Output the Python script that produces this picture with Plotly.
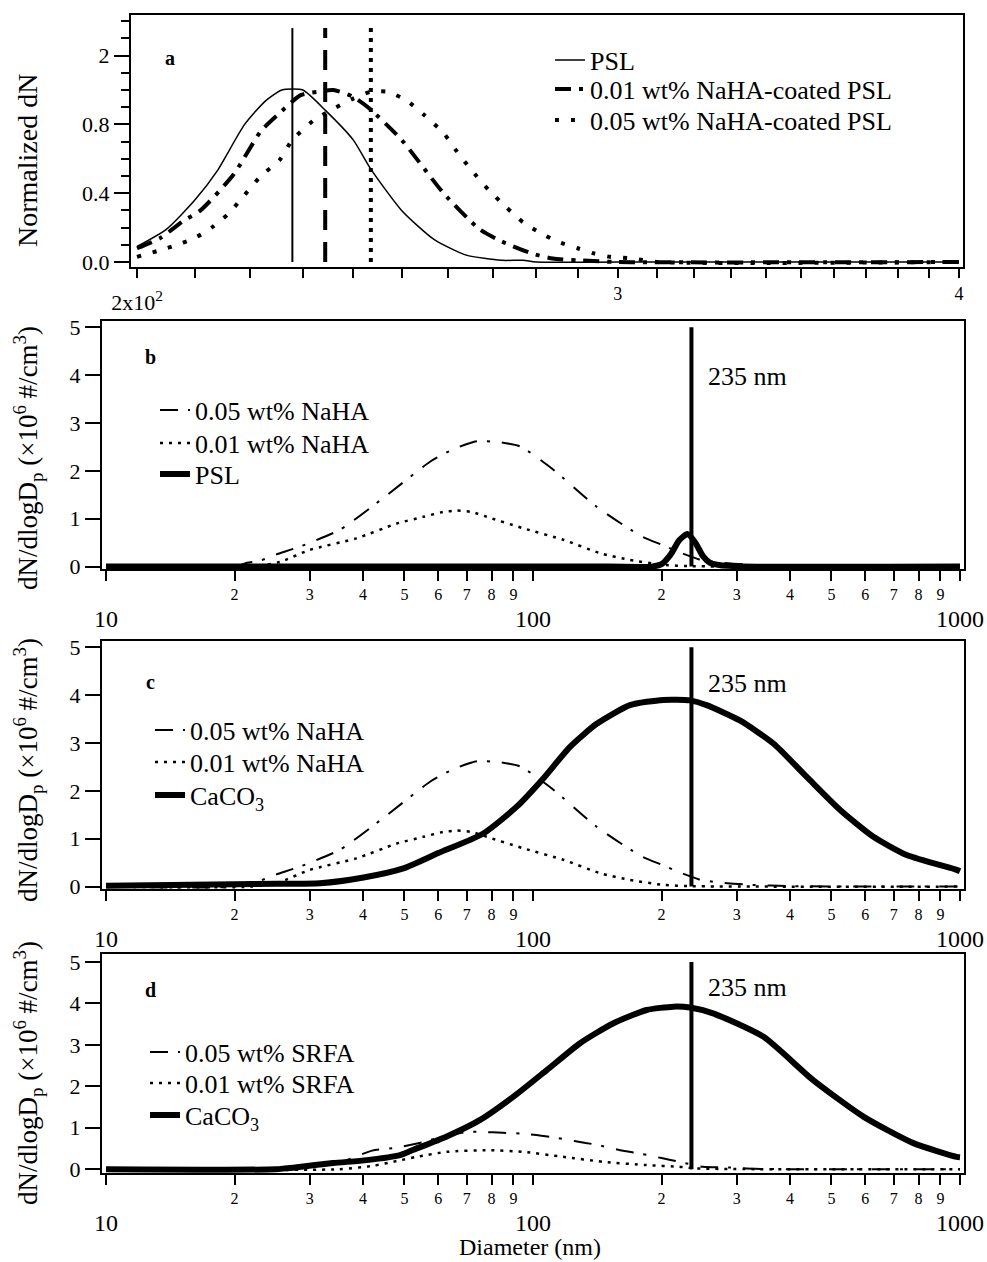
import math
import plotly.graph_objects as go

W, H = 987, 1262
FONT = "Liberation Serif"

# ---------------- Panel a (normalized, 200-400 nm) ----------------
A_PSL_D = [200, 205, 210, 214, 219, 223, 226, 230, 234.5, 240, 243.6, 250, 257, 264, 272, 277, 280, 300, 350, 400]
A_PSL_N = [0.09, 0.19, 0.36, 0.53, 0.80, 0.94, 1.0, 1.0, 0.88, 0.71, 0.54, 0.30, 0.13, 0.04, 0.01, 0.01, 0.0, 0.0, 0.0, 0.0]

A_N001_D = [200, 204, 208, 211, 217, 222, 225, 229.6, 233, 236, 240, 243, 250, 259, 267, 272, 279, 284, 290, 300, 400]
A_N001_N = [0.08, 0.14, 0.24, 0.30, 0.51, 0.76, 0.85, 0.97, 0.99, 1.0, 0.96, 0.90, 0.71, 0.40, 0.19, 0.12, 0.05, 0.02, 0.01, 0.0, 0.0]

A_N005_D = [200, 206, 210, 213, 216, 219, 222, 225.5, 228, 232, 236, 240, 243.6, 247, 251, 255, 259, 262, 265, 269, 273, 277, 281, 285, 290, 294, 298, 304, 310, 400]
A_N005_N = [0.03, 0.09, 0.14, 0.20, 0.28, 0.39, 0.50, 0.59, 0.71, 0.82, 0.89, 0.95, 0.99, 0.99, 0.94, 0.85, 0.75, 0.64, 0.54, 0.42, 0.32, 0.23, 0.17, 0.12, 0.08, 0.05, 0.03, 0.02, 0.0, 0.0]

A_MODE_D = [228, 234.4, 243.6]      # vertical mode markers
A_MODE_TOP = 1.36

A_XTICKS = list(range(200, 401, 10))
A_YTICKS = [0, 0.4, 0.8, 1.2]
A_YTEXT = ["0.0", "0.4", "0.8", "2"]

# ---------------- Panels b, c (NaHA) ----------------
NAHA005_D = [10, 20, 21.4, 22.9, 25, 28.5, 35.3, 45, 57.4, 65, 73.8, 83, 93.3, 110.7, 141, 179.7, 201, 220, 245, 270, 320, 400, 1000]
NAHA005_N = [0, 0, 0.08, 0.12, 0.25, 0.42, 0.77, 1.46, 2.19, 2.45, 2.62, 2.6, 2.51, 2.05, 1.25, 0.63, 0.45, 0.30, 0.15, 0.09, 0.04, 0.01, 0]

NAHA001_D = [10, 22, 25.6, 30, 38.6, 48, 55.4, 61.5, 66.2, 72, 77.9, 94.9, 117.8, 143.6, 168.7, 200, 230, 1000]
NAHA001_N = [0, 0, 0.1, 0.35, 0.59, 0.9, 1.04, 1.14, 1.17, 1.14, 1.04, 0.80, 0.56, 0.28, 0.14, 0.04, 0.01, 0]

PSL_D = [10, 150, 190, 200, 210, 220, 230, 240, 250, 260, 275, 300, 310, 1000]
PSL_N = [0, 0, 0, 0.05, 0.25, 0.55, 0.68, 0.50, 0.22, 0.08, 0.03, 0.01, 0, 0]

CACO3_C_D = [10, 20, 25, 31.7, 40.1, 49.7, 60, 76.5, 91.6, 105.7, 122.1, 141, 168.7, 202, 233, 255, 305, 365.6, 437.7, 524, 627, 750, 982, 1000]
CACO3_C_N = [0.02, 0.05, 0.06, 0.07, 0.19, 0.38, 0.70, 1.11, 1.67, 2.26, 2.92, 3.40, 3.79, 3.90, 3.89, 3.79, 3.47, 2.99, 2.29, 1.60, 1.04, 0.66, 0.35, 0.32]

# ---------------- Panel d (SRFA) ----------------
SRFA005_D = [10, 28, 35, 42, 48, 55, 62, 70, 76, 85, 94, 110, 125, 141, 160, 180, 200, 220, 250, 290, 330, 1000]
SRFA005_N = [0, 0, 0.15, 0.45, 0.52, 0.65, 0.80, 0.90, 0.90, 0.88, 0.86, 0.78, 0.68, 0.59, 0.46, 0.37, 0.27, 0.18, 0.06, 0.04, 0.01, 0]

SRFA001_D = [10, 35, 42, 48, 53.4, 62.8, 79, 94.9, 117.5, 146, 184.6, 220, 240, 1000]
SRFA001_N = [0, 0, 0.08, 0.2, 0.30, 0.42, 0.46, 0.42, 0.30, 0.18, 0.10, 0.06, 0.02, 0]

CACO3_D_D = [10, 25, 28, 34, 40.8, 48.8, 52.5, 62.8, 75.2, 90, 107.7, 128.9, 154.3, 184.6, 213, 233, 264, 346, 453, 594, 778, 982, 1000]
CACO3_D_N = [0, 0, 0.05, 0.15, 0.22, 0.34, 0.47, 0.79, 1.19, 1.75, 2.39, 3.04, 3.52, 3.84, 3.92, 3.90, 3.76, 3.20, 2.15, 1.27, 0.63, 0.30, 0.29]

REF_D = 235
REF_TOP = 5.0

BCD_XTICKS = [10, 20, 30, 40, 50, 60, 70, 80, 90, 100, 200, 300, 400, 500, 600, 700, 800, 900, 1000]
BCD_XTEXT = ["", "2", "3", "4", "5", "6", "7", "8", "9", "", "2", "3", "4", "5", "6", "7", "8", "9", ""]
BCD_MAJOR = [10, 100, 1000]
BCD_YTICKS = [0, 1, 2, 3, 4, 5]


def xd(x0, x1):
    return [x0 / W, x1 / W]


def yd(y0, y1):
    return [1 - y1 / H, 1 - y0 / H]


PA = dict(x=(131, 963), y=(15, 267))
PB = dict(x=(102, 964), y=(321, 569))
PC = dict(x=(102, 964), y=(641, 889))
PD = dict(x=(102, 964), y=(954, 1173))

# one legend box per entry: (legend id, text-start x px, row centre y px)
LEG_POS = {
    "legend": (590, 60), "legend5": (590, 89), "legend6": (590, 120),
    "legend2": (195, 410), "legend7": (195, 443), "legend8": (195, 474),
    "legend3": (190, 730), "legend9": (190, 762), "legend10": (190, 795),
    "legend4": (185, 1052), "legend11": (185, 1083), "legend12": (185, 1115),
}
LEG_SIZE = 26

fig = go.Figure()
BLACK = "black"
SPL = dict(shape="spline", smoothing=0.6)

# Panel a traces
fig.add_trace(go.Scatter(x=A_PSL_D, y=A_PSL_N, mode="lines", name="PSL",
                         line=dict(color=BLACK, width=1.5, **SPL), xaxis="x", yaxis="y", legend="legend"))
fig.add_trace(go.Scatter(x=A_N001_D, y=A_N001_N, mode="lines", name="0.01 wt% NaHA-coated PSL",
                         line=dict(color=BLACK, width=4, dash="16px,8px,4px,8px", **SPL),
                         xaxis="x", yaxis="y", legend="legend5"))
fig.add_trace(go.Scatter(x=A_N005_D, y=A_N005_N, mode="lines", name="0.05 wt% NaHA-coated PSL",
                         line=dict(color=BLACK, width=4, dash="4px,12px", **SPL),
                         xaxis="x", yaxis="y", legend="legend6"))
for d, w, dash in zip(A_MODE_D, [2, 4, 4], ["solid", "20px,12px", "4px,6px"]):
    fig.add_trace(go.Scatter(x=[d, d], y=[0, A_MODE_TOP], mode="lines", showlegend=False,
                             line=dict(color=BLACK, width=w, dash=dash), xaxis="x", yaxis="y"))

DASH005 = "18px,10px,3px,12px"
DOT001 = "3px,6px"


def add_panel(xa, ya, legs, d05, n05, name05, d01, n01, name01, dthick, nthick, namethick):
    fig.add_trace(go.Scatter(x=d05, y=n05, mode="lines", name=name05,
                             line=dict(color=BLACK, width=2, dash=DASH005, **SPL),
                             xaxis=xa, yaxis=ya, legend=legs[0]))
    fig.add_trace(go.Scatter(x=d01, y=n01, mode="lines", name=name01,
                             line=dict(color=BLACK, width=2.5, dash=DOT001, **SPL),
                             xaxis=xa, yaxis=ya, legend=legs[1]))
    fig.add_trace(go.Scatter(x=dthick, y=nthick, mode="lines", name=namethick,
                             line=dict(color=BLACK, width=6, **SPL), xaxis=xa, yaxis=ya, legend=legs[2]))
    fig.add_trace(go.Scatter(x=[REF_D, REF_D], y=[0, REF_TOP], mode="lines", showlegend=False,
                             line=dict(color=BLACK, width=4), xaxis=xa, yaxis=ya))


add_panel("x2", "y2", ("legend2", "legend7", "legend8"), NAHA005_D, NAHA005_N, "0.05 wt% NaHA",
          NAHA001_D, NAHA001_N, "0.01 wt% NaHA", PSL_D, PSL_N, "PSL")
add_panel("x3", "y3", ("legend3", "legend9", "legend10"), NAHA005_D, NAHA005_N, "0.05 wt% NaHA",
          NAHA001_D, NAHA001_N, "0.01 wt% NaHA", CACO3_C_D, CACO3_C_N, "CaCO<sub>3</sub>")
add_panel("x4", "y4", ("legend4", "legend11", "legend12"), SRFA005_D, SRFA005_N, "0.05 wt% SRFA",
          SRFA001_D, SRFA001_N, "0.01 wt% SRFA", CACO3_D_D, CACO3_D_N, "CaCO<sub>3</sub>")

# empty carrier traces so that the label-only overlay axes get drawn
for xa, ya, vals in (("x9", "y", [200]), ("x5", "y2", BCD_MAJOR), ("x6", "y3", BCD_MAJOR), ("x7", "y4", BCD_MAJOR)):
    fig.add_trace(go.Scatter(x=vals, y=[None] * len(vals), mode="lines", showlegend=False,
                             hoverinfo="skip", xaxis=xa, yaxis=ya))

axis_common = dict(showline=True, linecolor=BLACK, linewidth=2, mirror=True, showgrid=False,
                   zeroline=False, ticks="outside", tickcolor=BLACK, tickwidth=2)

layout = dict(
    width=W, height=H, margin=dict(l=0, r=0, t=0, b=0, autoexpand=False),
    paper_bgcolor="white", plot_bgcolor="white",
    font=dict(family=FONT, color=BLACK),
)

A_XR = [math.log10(200) - 0.0022, math.log10(400) + 0.0015]
layout["xaxis"] = dict(axis_common, domain=xd(*PA["x"]), anchor="y", type="log", range=A_XR,
                       tickvals=A_XTICKS,
                       ticktext=["3" if v == 300 else "4" if v == 400 else "" for v in A_XTICKS],
                       ticklen=9, tickfont=dict(size=18, family=FONT))
layout["yaxis"] = dict(axis_common, domain=yd(*PA["y"]), anchor="x", range=[-0.029, 1.436],
                       tickvals=A_YTICKS, ticktext=A_YTEXT, ticklen=15,
                       tickfont=dict(size=22, family=FONT),
                       minor=dict(dtick=0.1, ticklen=8, ticks="outside", tickcolor=BLACK, tickwidth=2))
layout["xaxis9"] = dict(overlaying="x", anchor="y", domain=xd(*PA["x"]), type="log",
                        range=A_XR, tickvals=[200], ticktext=["2x10<sup>2</sup>"],
                        showline=False, showgrid=False, zeroline=False, ticks="",
                        tickfont=dict(size=22, family=FONT), ticklabelstandoff=20)

panels = [("2", PB), ("3", PC), ("4", PD)]
yranges = {"2": [-0.05, 5.13], "3": [-0.05, 5.13], "4": [-0.09, 5.19]}
overlay_ids = {"2": "5", "3": "6", "4": "7"}
BCD_XR = [0.9906, 3.0094]
for k, P in panels:
    layout["xaxis" + k] = dict(axis_common, domain=xd(*P["x"]), anchor="y" + k, type="log", range=BCD_XR,
                               tickvals=BCD_XTICKS, ticktext=BCD_XTEXT, ticklen=10,
                               tickfont=dict(size=16, family=FONT))
    layout["yaxis" + k] = dict(axis_common, domain=yd(*P["y"]), anchor="x" + k, range=yranges[k],
                               tickvals=BCD_YTICKS, ticklen=15, tickfont=dict(size=22, family=FONT))
    layout["xaxis" + overlay_ids[k]] = dict(overlaying="x" + k, anchor="y" + k, domain=xd(*P["x"]),
                                            type="log", range=BCD_XR, tickvals=BCD_MAJOR,
                                            ticktext=[str(v) for v in BCD_MAJOR],
                                            showline=False, showgrid=False, zeroline=False, ticks="",
                                            tickfont=dict(size=24, family=FONT), ticklabelstandoff=33)

item_h = 1.3 * LEG_SIZE + 3
for lid, (tx, cy) in LEG_POS.items():
    top = cy - 5 - item_h / 2
    layout[lid] = dict(x=(tx - 40) / W, y=1 - top / H, xanchor="left", yanchor="top",
                       font=dict(size=LEG_SIZE, family=FONT, color=BLACK),
                       bgcolor="rgba(0,0,0,0)", borderwidth=0)

ann = []


def txt(xpx, ypx, s, size, xanchor="center", **kw):
    d = dict(x=xpx / W, y=1 - ypx / H, xref="paper", yref="paper", text=s, showarrow=False,
             xanchor=xanchor, yanchor="middle", font=dict(size=size, family=FONT, color=BLACK))
    d.update(kw)
    ann.append(d)


YT = "dN/dlogD<sub>p</sub> (×10<sup>6</sup> #/cm<sup>3</sup>)"
txt(27, 161, "Normalized dN", 28, textangle=-90)
txt(28, 458, YT, 27, textangle=-90)
txt(28, 770, YT, 27, textangle=-90)
txt(28, 1073, YT, 27, textangle=-90)
txt(530, 1247, "Diameter (nm)", 24)
txt(170, 58, "<b>a</b>", 20)
txt(150, 357, "<b>b</b>", 20)
txt(150, 682, "<b>c</b>", 20)
txt(150, 990, "<b>d</b>", 20)
for ypx in (377, 683, 987):
    txt(706, ypx, "235 nm", 26, xanchor="left")
layout["annotations"] = ann

fig.update_layout(**layout)
fig.write_html("out.html")
